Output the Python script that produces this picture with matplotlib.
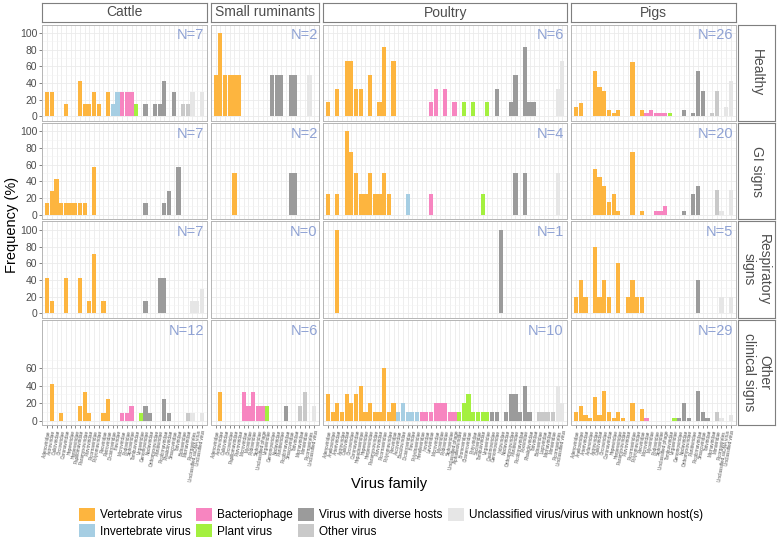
import numpy as np
import matplotlib
matplotlib.use('Agg')
import matplotlib.pyplot as plt
from matplotlib.patches import Patch

plt.rcParams['font.family'] = ['Liberation Sans', 'DejaVu Sans']

host_types = ['Vertebrate virus', 'Invertebrate virus', 'Bacteriophage', 'Plant virus',
              'Virus with diverse hosts', 'Other virus',
              'Unclassified virus/virus with unknown host(s)']
type_colors = ['#FDB53F', '#A6CEE3', '#F785C0', '#A4F03F', '#9B9B9B', '#C9C9C9', '#E6E6E6']

animals = ['Cattle', 'Small ruminants', 'Poultry', 'Pigs']
statuses = ['Healthy', 'GI signs', 'Respiratory\nsigns', 'Other\nclinical signs']

# ---- virus families (x categories) per animal, and how many fall in each host type
cattle_families = ['Adenoviridae', 'Astroviridae', 'Caliciviridae', 'Circoviridae', 'Coronaviridae',
                   'Hepeviridae', 'Herpesviridae', 'Papillomaviridae', 'Paramyxoviridae', 'Parvoviridae',
                   'Picornaviridae', 'Polyomaviridae', 'Reoviridae', 'Retroviridae',
                   'Dicistroviridae', 'Iflaviridae',
                   'Microviridae', 'Podoviridae', 'Siphoviridae',
                   'Tombusviridae', 'Virgaviridae',
                   'Genomoviridae', 'Nodaviridae', 'Orthomyxoviridae', 'Partitiviridae',
                   'Picobirnaviridae', 'Rhabdoviridae', 'Smacoviridae', 'Totiviridae',
                   'Bidnaviridae', 'Marnaviridae',
                   'Picornavirales', 'Unclassified ssDNA virus', 'Unclassified virus']
cattle_groups = [14, 2, 3, 2, 8, 2, 3]

sr_families = ['Adenoviridae', 'Astroviridae', 'Caliciviridae', 'Circoviridae', 'Papillomaviridae',
               'Parvoviridae',
               'Microviridae', 'Myoviridae', 'Podoviridae', 'Siphoviridae', 'Unclassified phage',
               'Virgaviridae',
               'Genomoviridae', 'Nodaviridae', 'Partitiviridae', 'Picobirnaviridae', 'Smacoviridae',
               'Totiviridae',
               'Marnaviridae', 'Mimiviridae',
               'Picornavirales', 'Unclassified virus']
sr_groups = [6, 0, 5, 1, 6, 2, 2]

poultry_families = ['Adenoviridae', 'Anelloviridae', 'Arteriviridae', 'Astroviridae', 'Caliciviridae',
                    'Circoviridae', 'Coronaviridae', 'Hepadnaviridae', 'Hepeviridae', 'Herpesviridae',
                    'Paramyxoviridae', 'Parvoviridae', 'Picornaviridae', 'Polyomaviridae', 'Reoviridae',
                    'Ascoviridae', 'Baculoviridae', 'Dicistroviridae', 'Iflaviridae', 'Polydnaviridae',
                    'Herelleviridae', 'Inoviridae', 'Leviviridae', 'Microviridae', 'Myoviridae',
                    'Podoviridae', 'Siphoviridae', 'Unclassified phage',
                    'Alphaflexiviridae', 'Bromoviridae', 'Closteroviridae', 'Potyviridae',
                    'Secoviridae', 'Tombusviridae', 'Virgaviridae',
                    'Caulimoviridae', 'Genomoviridae', 'Iridoviridae', 'Nodaviridae',
                    'Orthomyxoviridae', 'Partitiviridae', 'Picobirnaviridae', 'Poxviridae',
                    'Rhabdoviridae', 'Totiviridae',
                    'Bidnaviridae', 'Lispiviridae', 'Marnaviridae', 'Mimiviridae',
                    'Picornavirales', 'Unclassified virus']
poultry_groups = [15, 5, 8, 7, 10, 4, 2]

pigs_families = ['Adenoviridae', 'Anelloviridae', 'Arteriviridae', 'Asfarviridae', 'Astroviridae',
                 'Caliciviridae', 'Circoviridae', 'Coronaviridae', 'Hepeviridae', 'Herpesviridae',
                 'Paramyxoviridae', 'Parvoviridae', 'Picornaviridae', 'Polyomaviridae', 'Reoviridae',
                 'Microviridae', 'Myoviridae', 'Podoviridae', 'Siphoviridae', 'Unclassified phage',
                 'Tombusviridae', 'Virgaviridae',
                 'Genomoviridae', 'Nodaviridae', 'Orthomyxoviridae', 'Partitiviridae',
                 'Picobirnaviridae', 'Smacoviridae', 'Totiviridae',
                 'Marnaviridae', 'Mimiviridae',
                 'Picornavirales', 'Unclassified ssDNA virus', 'Unclassified virus']
pigs_groups = [15, 0, 5, 2, 7, 2, 3]

# ---- frequencies (%) per animal x clinical status
cattle_healthy = [28.6, 28.6, 0, 0, 14.3, 0, 0, 42.9, 14.3, 14.3, 28.6, 14.3, 0, 28.6,
                  14.3, 28.6,
                  28.6, 28.6, 28.6,
                  14.3, 0,
                  14.3, 0, 14.3, 14.3, 42.9, 0, 28.6, 0,
                  14.3, 14.3,
                  28.6, 0, 28.6]
cattle_gi = [14.3, 28.6, 42.9, 14.3, 14.3, 14.3, 14.3, 14.3, 14.3, 0, 57.1, 0, 0, 0,
             0, 0,
             0, 0, 0,
             0, 0,
             14.3, 0, 0, 0, 14.3, 28.6, 0, 57.1,
             0, 0,
             0, 0, 0]
cattle_resp = [42.9, 14.3, 0, 0, 42.9, 0, 0, 42.9, 0, 14.3, 71.4, 0, 14.3, 0,
               0, 0,
               0, 0, 0,
               0, 0,
               14.3, 0, 0, 42.9, 42.9, 0, 0, 0,
               0, 0,
               14.3, 14.3, 28.6]
cattle_other = [0, 41.7, 0, 8.3, 0, 0, 0, 16.7, 33.3, 8.3, 0, 0, 8.3, 25.0,
                0, 0,
                8.3, 8.3, 16.7,
                0, 8.3,
                16.7, 8.3, 0, 0, 25.0, 8.3, 0, 0,
                0, 8.3,
                8.3, 0, 8.3]

sr_healthy = [50, 100, 50, 50, 50, 50,
              0, 0, 0, 0, 0,
              0,
              50, 50, 50, 0, 50, 50,
              0, 0,
              50, 0]
sr_gi = [0, 0, 0, 0, 50, 0,
         0, 0, 0, 0, 0,
         0,
         0, 0, 0, 0, 50, 50,
         0, 0,
         0, 0]
sr_resp = [0, 0, 0, 0, 0, 0,
           0, 0, 0, 0, 0,
           0,
           0, 0, 0, 0, 0, 0,
           0, 0,
           0, 0]
sr_other = [0, 33.3, 0, 0, 0, 0,
            33.3, 16.7, 33.3, 16.7, 16.7,
            16.7,
            0, 0, 0, 16.7, 0, 0,
            16.7, 33.3,
            0, 16.7]

poultry_healthy = [16.7, 0, 33.3, 0, 66.7, 66.7, 33.3, 33.3, 0, 50, 0, 16.7, 83.3, 0, 66.7,
                   0, 0, 0, 0, 0,
                   0, 0, 16.7, 33.3, 0, 33.3, 0, 16.7,
                   0, 16.7, 0, 16.7, 0, 0, 16.7,
                   0, 33.3, 0, 0, 16.7, 50, 0, 83.3, 16.7, 16.7,
                   0, 0, 0, 0,
                   33.3, 66.7]
poultry_gi = [25, 0, 25, 0, 100, 75, 50, 25, 25, 50, 25, 25, 50, 25, 0,
              0, 0, 25, 0, 0,
              0, 0, 25, 0, 0, 0, 0, 0,
              0, 0, 0, 0, 0, 25, 0,
              0, 0, 0, 0, 0, 50, 0, 50, 0, 0,
              0, 0, 0, 0,
              50, 0]
poultry_resp = [0, 0, 100, 0, 0, 0, 0, 0, 0, 0, 0, 0, 0, 0, 0,
                0, 0, 0, 0, 0,
                0, 0, 0, 0, 0, 0, 0, 0,
                0, 0, 0, 0, 0, 0, 0,
                0, 0, 100, 0, 0, 0, 0, 0, 0, 0,
                0, 0, 0, 0,
                0, 0]
poultry_other = [30, 10, 20, 10, 30, 20, 30, 40, 10, 20, 10, 10, 60, 10, 20,
                 10, 20, 10, 10, 10,
                 10, 10, 10, 20, 20, 20, 10, 10,
                 10, 20, 30, 10, 10, 10, 10,
                 10, 10, 0, 10, 30, 30, 10, 40, 10, 0,
                 10, 10, 10, 10,
                 40, 20]

pigs_healthy = [11.5, 15.4, 0, 0, 53.8, 34.6, 30.8, 7.7, 3.8, 7.7, 0, 0, 65.4, 0, 7.7,
                3.8, 7.7, 3.8, 3.8, 3.8,
                3.8, 0,
                0, 7.7, 0, 3.8, 53.8, 30.8, 0,
                3.8, 30.8,
                0, 11.5, 42.3]
pigs_gi = [0, 0, 0, 0, 55, 45, 35, 15, 25, 5, 0, 0, 75, 0, 5,
           0, 0, 5, 5, 10,
           0, 0,
           0, 5, 0, 25, 35, 0, 0,
           0, 30,
           5, 0, 30]
pigs_resp = [20, 40, 20, 0, 80, 20, 40, 20, 0, 60, 0, 20, 40, 20, 20,
             0, 0, 0, 0, 0,
             0, 0,
             0, 0, 0, 0, 40, 0, 0,
             0, 0,
             20, 0, 20]
pigs_other = [10.3, 17.2, 6.9, 3.4, 27.6, 6.9, 34.5, 10.3, 3.4, 10.3, 3.4, 0, 20.7, 0, 13.8,
              3.4, 0, 0, 0, 0,
              0, 3.4,
              3.4, 20.7, 3.4, 0, 34.5, 10.3, 3.4,
              0, 10.3,
              3.4, 0, 6.9]

cattle_n = [7, 7, 7, 12]
sr_n = [2, 2, 0, 6]
poultry_n = [6, 4, 1, 10]
pigs_n = [26, 20, 5, 29]

# y breaks shown on each row (bottom row only goes up to 60)
row_breaks = [[0, 20, 40, 60, 80, 100], [0, 20, 40, 60, 80, 100],
              [0, 20, 40, 60, 80, 100], [0, 20, 40, 60]]

families = [cattle_families, sr_families, poultry_families, pigs_families]
groups = [cattle_groups, sr_groups, poultry_groups, pigs_groups]
values = [[cattle_healthy, cattle_gi, cattle_resp, cattle_other],
          [sr_healthy, sr_gi, sr_resp, sr_other],
          [poultry_healthy, poultry_gi, poultry_resp, poultry_other],
          [pigs_healthy, pigs_gi, pigs_resp, pigs_other]]
counts = [cattle_n, sr_n, poultry_n, pigs_n]

# ---- layout in pixels
W, H = 778, 545
fig = plt.figure(figsize=(W / 100, H / 100), dpi=100)


def px_axes(x0, y0, x1, y1):
    return fig.add_axes([x0 / W, 1 - y1 / H, (x1 - x0) / W, (y1 - y0) / H])


left, right, gap = 42, 736, 3.5
col_units = [len(f) + 1.2 for f in families]
unit = (right - left - gap * 3) / sum(col_units)
col_x = []
x = left
for u in col_units:
    col_x.append((x, x + u * unit))
    x += u * unit + gap

row_top = [24.5, 123, 221.5, 320]
row_h = [96, 96, 96, 105]
px_per_pct = 96 / 110

grid_c = '#EBEBEB'
text_c = '#4D4D4D'
n_color = '#8FA2D4'

for c in range(4):
    fams = families[c]
    n = len(fams)
    bar_colors = [type_colors[t] for t in np.repeat(np.arange(7), groups[c])]
    for r in range(4):
        x0, x1 = col_x[c]
        y0 = row_top[r]
        y1 = y0 + row_h[r]
        ax = px_axes(x0, y0, x1, y1)
        ax.bar(np.arange(n), values[c][r], width=0.9, color=bar_colors, linewidth=0, zorder=2)
        ax.set_xlim(-1.1, n + 0.1)
        ax.set_ylim(-5, -5 + row_h[r] / px_per_pct)
        ax.set_xticks(np.arange(n))
        brk = row_breaks[r]
        ax.set_yticks(brk)
        ax.set_yticks([b + 10 for b in brk], minor=True)
        ax.grid(which='major', color=grid_c, lw=0.6, zorder=0)
        ax.grid(which='minor', axis='y', color='#F3F3F3', lw=0.4, zorder=0)
        ax.set_axisbelow(True)
        for s in ax.spines.values():
            s.set_color('#B5B5B5')
            s.set_linewidth(0.7)
        ax.tick_params(which='minor', left=False, bottom=False)
        ax.tick_params(which='major', length=2, width=0.5, color='#555555',
                       left=(c == 0), labelleft=(c == 0),
                       bottom=(r == 3), labelbottom=(r == 3))
        if c == 0:
            ax.set_yticklabels([str(b) for b in brk], fontsize=7.5, color=text_c)
            ax.tick_params(axis='y', pad=1.5)
        if r == 3:
            ax.set_xticklabels(fams, rotation=80, fontsize=3.3, color=text_c,
                               ha='right', rotation_mode='anchor')
            ax.tick_params(axis='x', pad=1.5)
        ax.text(0.985, 0.96, f'N={counts[c][r]}', transform=ax.transAxes,
                ha='right', va='top', color=n_color, fontsize=10.5)

# column strips
for c in range(4):
    x0, x1 = col_x[c]
    sax = px_axes(x0, 3, x1, 22)
    sax.set_xticks([])
    sax.set_yticks([])
    for s in sax.spines.values():
        s.set_color('#7F7F7F')
        s.set_linewidth(0.8)
    sax.text(0.5, 0.5, animals[c], ha='center', va='center', fontsize=10,
             color=text_c, transform=sax.transAxes)

# row strips
for r in range(4):
    sax = px_axes(738, row_top[r], 775, row_top[r] + row_h[r])
    sax.set_xticks([])
    sax.set_yticks([])
    for s in sax.spines.values():
        s.set_color('#7F7F7F')
        s.set_linewidth(0.8)
    sax.text(0.5, 0.5, statuses[r], ha='center', va='center', rotation=-90, fontsize=10,
             color=text_c, transform=sax.transAxes, linespacing=1.1)

fig.text(12 / W, 1 - 225 / H, 'Frequency (%)', rotation=90, ha='center', va='center', fontsize=10.5)
fig.text(389 / W, 1 - 484 / H, 'Virus family', ha='center', va='center', fontsize=10.5)

handles = [Patch(facecolor=col, edgecolor='none', label=lab) for lab, col in zip(host_types, type_colors)]
fig.legend(handles=handles, ncol=4, loc='upper center', bbox_to_anchor=(391 / W, 1 - 497 / H),
           frameon=False, fontsize=8.5, handlelength=1.35, handleheight=1.35,
           handletextpad=0.45, columnspacing=0.45, labelspacing=0.25)

fig.savefig('out.png', dpi=100)
